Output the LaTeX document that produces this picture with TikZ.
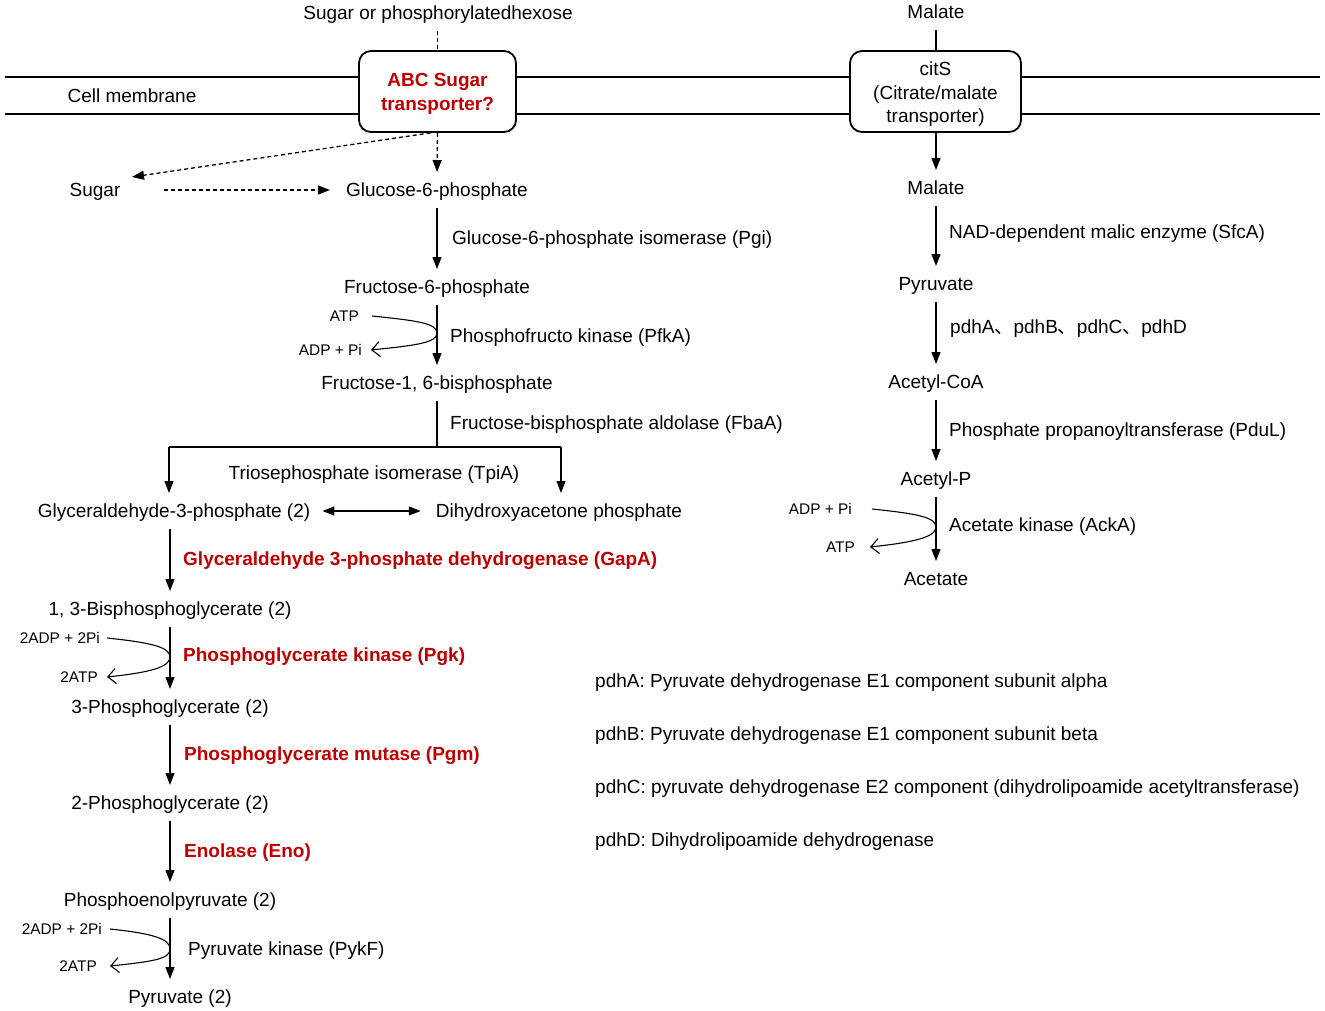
\documentclass[tikz,border=0pt]{standalone}
\usepackage{fontspec}
\setmainfont{Liberation Sans}
\newfontfamily\cjk{Noto Sans CJK SC}
\usetikzlibrary{arrows.meta}
\definecolor{enzred}{RGB}{192,0,0}
\begin{document}
\begin{tikzpicture}[x=1pt,y=-1pt,
  every node/.style={inner sep=0pt},
  met/.style={font=\fontsize{19}{23}\selectfont, text height=13.6pt, text depth=0pt, inner ysep=11pt, inner xsep=4pt},
  enz/.style={font=\fontsize{19}{23}\selectfont, text height=13.6pt, text depth=0pt, anchor=west},
  renz/.style={enz, font=\fontsize{19}{23}\selectfont\bfseries, text=enzred},
  sml/.style={font=\fontsize{15.4}{18}\selectfont, text height=11.2pt, text depth=0pt, anchor=east},
  tbox/.style={draw, line width=1.8pt, rounded corners=12pt, fill=white, align=center, font=\fontsize{19}{23.5}\selectfont},
  ln/.style={line width=1.3pt},
  arr/.style={ln, -{Triangle[length=12pt,width=9pt]}},
  darr/.style={ln, {Triangle[length=12pt,width=9pt]}-{Triangle[length=12pt,width=9pt]}},
  dsh/.style={ln, dash pattern=on 4pt off 3pt},
  dasharr/.style={dsh, -{Triangle[length=12pt,width=9pt]}},
  curv/.style={line width=1.1pt, -{Straight Barb[length=8pt,width=15pt]}},
  bend1/.style={out=-6,in=90,out distance=44pt,in distance=10pt},
  bend2/.style={out=-90,in=6,out distance=10pt,in distance=44pt},
  mem/.style={line width=1.2pt}
]
\useasboundingbox (0,0) rectangle (1325,1011);
\fill[white] (0,0) rectangle (1325,1011);

% membrane
\draw[mem] (5,77) -- (1320,77);
\draw[mem] (5,114) -- (1320,114);
\node[enz, anchor=center] (cellmem) at (132,96) {Cell membrane};

% transporters
\node[tbox, minimum width=157pt, minimum height=81pt, text=enzred, font=\fontsize{19}{24}\selectfont\bfseries] (abc) at (437.5,91.5) {\rule{0pt}{18.5pt}ABC Sugar\\transporter?};
\node[tbox, minimum width=171pt, minimum height=81pt] (cits) at (935.5,91.5) {\rule{0pt}{19.5pt}citS\\(Citrate/malate\\transporter)};

% ---------- left pathway ----------
\node[met] (sugtop) at (438,13) {Sugar or phosphorylatedhexose};
\draw[dsh] (sugtop.south -| abc.north) -- (abc.north);

\node[met] (sugar) at (95,190) {Sugar};
\node[met] (g6p) at (437,190) {Glucose-6-phosphate};
\draw[dasharr] (abc.south) -- (g6p.north);
\draw[dasharr] ([xshift=-7pt]abc.south) -- ([shift={(37,-13)}]sugar.center);
\draw[dasharr] ([xshift=39pt]sugar.east) -- ([xshift=-12pt]g6p.west);

\node[met] (f6p) at (437,287) {Fructose-6-phosphate};
\draw[arr] (g6p.south) -- (f6p.north);
\node[enz] (pgi) at (452,238) {Glucose-6-phosphate isomerase (Pgi)};

\node[met] (f16bp) at (437,383) {Fructose-1, 6-bisphosphate};
\draw[arr] (f6p.south) -- (f16bp.north);
\node[enz] (pfka) at (450,336) {Phosphofructo kinase (PfkA)};
\node[sml] (atp1) at (359,316) {ATP};
\node[sml] (adp1) at (362,350) {ADP + Pi};
\coordinate (c1) at (437,333);
\draw[curv] ([xshift=13pt]atp1.east) to[bend1] (c1) to[bend2] ([xshift=9pt]adp1.east);

\coordinate (split) at (437,447);
\coordinate (bl) at (169,447);
\coordinate (br) at (561,447);
\draw[ln] (f16bp.south) -- (split);
\node[enz] (fbaa) at (450,423) {Fructose-bisphosphate aldolase (FbaA)};
\draw[ln] (bl) -- (br);
\node[met] (gap) at (174,511) {Glyceraldehyde-3-phosphate (2)};
\node[met] (dhap) at (559,511) {Dihydroxyacetone phosphate};
\draw[arr] (bl) -- (bl |- gap.north);
\draw[arr] (br) -- (br |- dhap.north);
\node[enz, anchor=center] (tpia) at (374,473) {Triosephosphate isomerase (TpiA)};
\draw[darr] ([xshift=8pt]gap.east) -- ([xshift=-11pt]dhap.west);

\node[met] (bpg) at (170,609) {1, 3-Bisphosphoglycerate (2)};
\draw[arr] (bpg |- gap.south) -- (bpg.north);
\node[renz] (gapa) at (183,559) {Glyceraldehyde 3-phosphate dehydrogenase (GapA)};

\node[met] (pg3) at (170,707) {3-Phosphoglycerate (2)};
\draw[arr] (bpg.south) -- (pg3.north);
\node[renz] (pgk) at (183,655) {Phosphoglycerate kinase (Pgk)};
\node[sml] (adp2) at (100,638) {2ADP + 2Pi};
\node[sml] (atp2) at (98,677) {2ATP};
\coordinate (c2) at (170,657);
\draw[curv] ([xshift=7pt]adp2.east) to[bend1] (c2) to[bend2] ([xshift=9pt]atp2.east);

\node[met] (pg2) at (170,803) {2-Phosphoglycerate (2)};
\draw[arr] (pg3.south) -- (pg2.north);
\node[renz] (pgm) at (184,754) {Phosphoglycerate mutase (Pgm)};

\node[met] (pep) at (170,900) {Phosphoenolpyruvate (2)};
\draw[arr] (pg2.south) -- (pep.north);
\node[renz] (eno) at (184,851) {Enolase (Eno)};

\node[met] (pyr2) at (180,997) {Pyruvate (2)};
\draw[arr] (pep.south) -- (pep.south |- pyr2.north);
\node[enz] (pykf) at (188,949) {Pyruvate kinase (PykF)};
\node[sml] (adp3) at (102,929) {2ADP + 2Pi};
\node[sml] (atp3) at (97,966) {2ATP};
\coordinate (c3) at (170,949);
\draw[curv] ([xshift=8pt]adp3.east) to[bend1] (c3) to[bend2] ([xshift=13pt]atp3.east);

% ---------- right pathway ----------
\node[met] (maltop) at (936,12) {Malate};
\draw[ln] (maltop.south) -- (maltop.south |- cits.north);
\node[met] (mal) at (936,188) {Malate};
\draw[arr] (mal |- cits.south) -- (mal.north);

\node[met] (pyr) at (936,284) {Pyruvate};
\draw[arr] (mal.south) -- (pyr.north);
\node[enz] (sfca) at (949,232) {NAD-dependent malic enzyme (SfcA)};

\node[met] (acoa) at (936,382) {Acetyl-CoA};
\draw[arr] (pyr.south) -- (acoa.north);
\node[enz] (pdh) at (950,327) {pdhA{\cjk 、}pdhB{\cjk 、}pdhC{\cjk 、}pdhD};

\node[met] (acp) at (936,479) {Acetyl-P};
\draw[arr] (acoa.south) -- (acp.north);
\node[enz] (pdul) at (949,430) {Phosphate propanoyltransferase (PduL)};

\node[met] (ace) at (936,579) {Acetate};
\draw[arr] (acp.south) -- (ace.north);
\node[enz] (acka) at (949,525) {Acetate kinase (AckA)};
\node[sml] (adp4) at (852,509) {ADP + Pi};
\node[sml] (atp4) at (855,547) {ATP};
\coordinate (c4) at (936,527);
\draw[curv] ([xshift=20pt]adp4.east) to[bend1] (c4) to[bend2] ([xshift=15pt]atp4.east);

% ---------- legend ----------
\node[enz] (lega) at (595,681) {pdhA: Pyruvate dehydrogenase E1 component subunit alpha};
\node[enz] (legb) at (595,734) {pdhB: Pyruvate dehydrogenase E1 component subunit beta};
\node[enz] (legc) at (595,787) {pdhC: pyruvate dehydrogenase E2 component (dihydrolipoamide acetyltransferase)};
\node[enz] (legd) at (595,840) {pdhD: Dihydrolipoamide dehydrogenase};
\end{tikzpicture}
\end{document}
